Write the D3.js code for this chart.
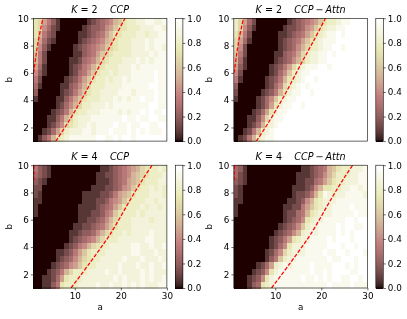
<!DOCTYPE html>
<html>
<head>
<meta charset="utf-8">
<script src="https://cdn.jsdelivr.net/npm/d3@7"></script>
<style>
  html, body { margin: 0; padding: 0; background: #fff; }
  svg { display: block; filter: blur(0.35px); }
  text { font-family: "DejaVu Sans", sans-serif; fill: #000; }
</style>
</head>
<body>
<div id="chart"></div>
<script>
// heatmap rows run top (b=10) to bottom (b=1), one hex char per cell, value = c/15
const ccpK2 = [
  "ba7531 000000 123456 89bccd deedde",
  "ba6421 000001 233467 9bbccc dddeed",
  "b85320 000011 234579 bbcccd dcddee",
  "a74210 000012 345689 bcccdd dedeee",
  "a63100 000123 45679a bcccdd dedeed",
  "952000 000113 4579ab ccccdd ddedee",
  "852000 001124 568abc ccddde dedeee",
  "741000 001235 68abcc cddded eeeeee",
  "631000 001245 79bccd cdddee eeefee",
  "520000 012357 9bccdc ddedee eeefee",
  "410000 113468 acccdd ddeeee eeffee",
  "300000 123579 bccddd deeede eeefee",
  "100001 13579b cccddd ededee feefee",
  "000001 2468ac cddded eeeeee eeffee",
  "000012 358bcc dddeee ededee fefeef",
  "000113 58acdd deeeee eefeef eeffee",
  "000124 6abcdd edeeee feefee ffeeff",
  "001247 acddde edeeef eeefef efeeef",
  "01358b cdeeee eeffee feffef ffffff"
];
const attnK2 = [
  "ca7420 000000 123456 79bccd eeffff",
  "ca6310 000001 223467 9bcdde efffff",
  "b85200 000011 234579 bcdeef efffff",
  "a74100 000012 34579b cdeeef ffffff",
  "a62000 000012 3468ac cdeeff efffff",
  "952000 000113 457acd deefef ffffff",
  "841000 000123 468acd deefff ffffff",
  "731000 001235 7acdee effeff ffffff",
  "620000 001246 9cdeef ffffff ffffff",
  "510000 012358 bcdeff efffff ffffff",
  "300000 01246a cdefef ffffff ffffff",
  "200000 12358b deeffe ffffff ffffff",
  "100001 2469cd eeffff ffffff ffffff",
  "000001 247bde effeff ffffff ffffff",
  "000012 47bdee ffffff ffffff ffffff",
  "000113 6adeef ffffff ffffff ffffff",
  "000124 8cdeff ffffff ffffff ffffff",
  "001258 cdefff ffffff ffffff ffffff",
  "01258c deefff ffffff ffffff ffffff"
];
const ccpK4 = [
  "532100 000000 000112 345678 abccdc",
  "432100 000000 001122 345689 abcccd",
  "321000 000000 001112 345789 bcccdd",
  "220000 000000 011122 34679b ccdcdc",
  "210000 000001 111223 5789bc ccdddc",
  "110000 000001 112235 679bcc cddcdd",
  "100000 000011 112345 79bccc dcddcd",
  "100000 000011 122356 9bcccd cddddd",
  "000000 000011 223468 acccdd ddcddd",
  "000000 000112 234579 bcccdd dddddd",
  "000000 001123 3468ab ccdcdd ddeddd",
  "000000 001234 568acc cddddd deeddd",
  "000000 012356 8abccd ddddee ddedde",
  "000001 123579 bcccdd ddddee dddedd",
  "000001 23468a bccddd ddeddd eddded",
  "000012 34679b ccdddd deddde ddedde",
  "000123 58accc dddded dedddd ededdd",
  "001124 7bcccd dddddd ededdd ededde",
  "001135 bcccdd ddedde ddeded edddee"
];
const attnK4 = [
  "431000 000000 000112 34589b ccddde",
  "421000 000000 001112 3468ac ccddee",
  "321000 000000 001122 4579bc cdddee",
  "210000 000000 011123 68bbcc ddeede",
  "210000 000000 012235 8bedcd deeeed",
  "110000 000000 112368 bcddde eeeeee",
  "100000 000001 122579 bcddee eefeee",
  "100000 000001 22458b cdddee eeefee",
  "000000 000001 2346bc ddeeee effeff",
  "000000 000012 3469cd deeeef effeef",
  "000000 000123 468cde deeeef efefff",
  "000000 001235 7bcdde eeefef ffefff",
  "000000 001246 bdddee eeefff effeff",
  "000000 01246a cdddee eefeef fefffe",
  "000000 01359c ddeeee eeefee fffeff",
  "000001 247cde deeeef eeeeff fefeff",
  "000012 36bdee eeeeef eefeff ffeeff",
  "000123 6bdeee eeefee fefeff eeffef",
  "000134 bcdeee eeeeee eeefee eefeee"
];

// red dashed boundaries, [a, b]
const upperK2 = [[1.07, 6.0], [2.0, 8.2], [3.1, 10]];
const lowerK2 = [[5.9, 1], [8.6, 2.4], [11.9, 4.3], [15.5, 6.6], [18.4, 8.4], [20.9, 10]];
const upperK4 = [[1.1, 8.9], [1.15, 10]];
const lowerK4 = [[9.2, 1], [13.4, 2.9], [17.7, 4.95], [22.1, 7.5], [25, 9.1], [26.8, 10]];

const aTicks = [10, 20, 30];
const bTicks = [2, 4, 6, 8, 10];
const cbTicks = [0, 0.2, 0.4, 0.6, 0.8, 1];

const W = 407, H = 319;
const panels = [
  { rows: ccpK2,  k: 2, name: "CCP",      upper: upperK2, lower: lowerK2, x0: 33.3,  y0: 18.3,  cb: 175.3 },
  { rows: attnK2, k: 2, name: "CCP\u2009\u2212\u2009Attn", upper: upperK2, lower: lowerK2, x0: 233.8, y0: 18.3,  cb: 375.8 },
  { rows: ccpK4,  k: 4, name: "CCP",      upper: upperK4, lower: lowerK4, x0: 33.3,  y0: 165.2, cb: 175.3 },
  { rows: attnK4, k: 4, name: "CCP\u2009\u2212\u2009Attn", upper: upperK4, lower: lowerK4, x0: 233.8, y0: 165.2, cb: 375.8 }
];
const pw = 133.6, ph = 122.8, cbw = 7.6;

// matlab/matplotlib "pink": sqrt((2*gray + hot)/3)
function pink(t) {
  const hr = Math.min(1, 0.0417 + t * 0.9583 / 0.365);
  const hg = Math.max(0, Math.min(1, (t - 0.365) / 0.381));
  const hb = Math.max(0, Math.min(1, (t - 0.746) / 0.254));
  const c = h => Math.round(255 * Math.sqrt((2 * t + h) / 3));
  return `rgb(${c(hr)},${c(hg)},${c(hb)})`;
}

const svg = d3.select("#chart").append("svg").attr("width", W).attr("height", H);

panels.forEach((p, pi) => {
  const g = svg.append("g");
  const x = d3.scaleLinear().domain([1, 30]).range([p.x0, p.x0 + pw]);
  const y = d3.scaleLinear().domain([1, 10]).range([p.y0 + ph, p.y0]);
  const col = d3.scaleBand().domain(d3.range(30)).range([p.x0, p.x0 + pw]);
  const row = d3.scaleBand().domain(d3.range(19)).range([p.y0, p.y0 + ph]);

  const cells = [];
  p.rows.forEach((s, r) => {
    const chars = s.replace(/ /g, "");
    d3.range(30).forEach(c => cells.push({ r, c, v: parseInt(chars[c], 16) / 15 }));
  });

  g.append("g").attr("shape-rendering", "crispEdges").selectAll("rect").data(cells).join("rect")
    .attr("x", d => col(d.c)).attr("y", d => row(d.r))
    .attr("width", col.bandwidth() + 0.5).attr("height", row.bandwidth() + 0.5)
    .attr("fill", d => pink(d.v));

  const clipId = "clip" + pi;
  svg.append("clipPath").attr("id", clipId).append("rect")
    .attr("x", p.x0).attr("y", p.y0).attr("width", pw).attr("height", ph);

  const line = d3.line().x(d => x(d[0])).y(d => y(d[1])).curve(d3.curveCatmullRom);
  [p.upper, p.lower].forEach(pts => {
    g.append("path").attr("d", line(pts)).attr("fill", "none")
      .attr("stroke", "#ff0000").attr("stroke-width", 1.25)
      .attr("stroke-dasharray", "3.8,1.7").attr("clip-path", `url(#${clipId})`);
  });

  g.append("rect").attr("x", p.x0).attr("y", p.y0).attr("width", pw).attr("height", ph)
    .attr("fill", "none").attr("stroke", "#000").attr("stroke-width", 0.6);

  // axes
  const yAxis = g.append("g").attr("transform", `translate(${p.x0},0)`)
    .call(d3.axisLeft(y).tickValues(bTicks).tickFormat(d3.format("d")).tickSize(2.4).tickPadding(2));
  yAxis.select(".domain").remove();
  if (pi >= 2) {
    const xAxis = g.append("g").attr("transform", `translate(0,${p.y0 + ph})`)
      .call(d3.axisBottom(x).tickValues(aTicks).tickFormat(d3.format("d")).tickSize(2.4).tickPadding(2));
    xAxis.select(".domain").remove();
    xAxis.selectAll("text").attr("font-size", 8.8);
    xAxis.selectAll("line").attr("stroke-width", 0.6);
    g.append("text").attr("x", p.x0 + pw / 2).attr("y", p.y0 + ph + 21.5)
      .attr("text-anchor", "middle").attr("font-size", 8.8).text("a");
  }
  yAxis.selectAll("text").attr("font-size", 8.8);
  yAxis.selectAll("line").attr("stroke-width", 0.6);
  g.append("text").attr("transform", `translate(${p.x0 - 21.5},${p.y0 + ph / 2}) rotate(-90)`)
    .attr("text-anchor", "middle").attr("font-size", 8.8).text("b");

  // title
  const title = g.append("text").attr("x", p.x0 + pw / 2).attr("y", p.y0 - 5.4)
    .attr("text-anchor", "middle").attr("font-size", 9.6);
  title.append("tspan").attr("font-style", "italic").text("K");
  title.append("tspan").text(" = " + p.k + "\u00a0\u00a0\u00a0\u00a0");
  title.append("tspan").attr("font-style", "italic").text(p.name);

  // colorbar
  const cy = d3.scaleLinear().domain([0, 1]).range([p.y0 + ph, p.y0]);
  const steps = d3.range(0, 1, 0.005);
  g.append("g").attr("shape-rendering", "crispEdges").selectAll("rect").data(steps).join("rect")
    .attr("x", p.cb).attr("width", cbw)
    .attr("y", d => cy(d + 0.005)).attr("height", d => cy(d) - cy(d + 0.005) + 0.5)
    .attr("fill", d => pink(d));
  g.append("rect").attr("x", p.cb).attr("y", p.y0).attr("width", cbw).attr("height", ph)
    .attr("fill", "none").attr("stroke", "#000").attr("stroke-width", 0.6);
  const cAxis = g.append("g").attr("transform", `translate(${p.cb + cbw},0)`)
    .call(d3.axisRight(cy).tickValues(cbTicks).tickFormat(d3.format(".1f")).tickSize(2.4).tickPadding(2));
  cAxis.select(".domain").remove();
  cAxis.selectAll("text").attr("font-size", 8.8);
  cAxis.selectAll("line").attr("stroke-width", 0.6);
});
</script>
</body>
</html>
